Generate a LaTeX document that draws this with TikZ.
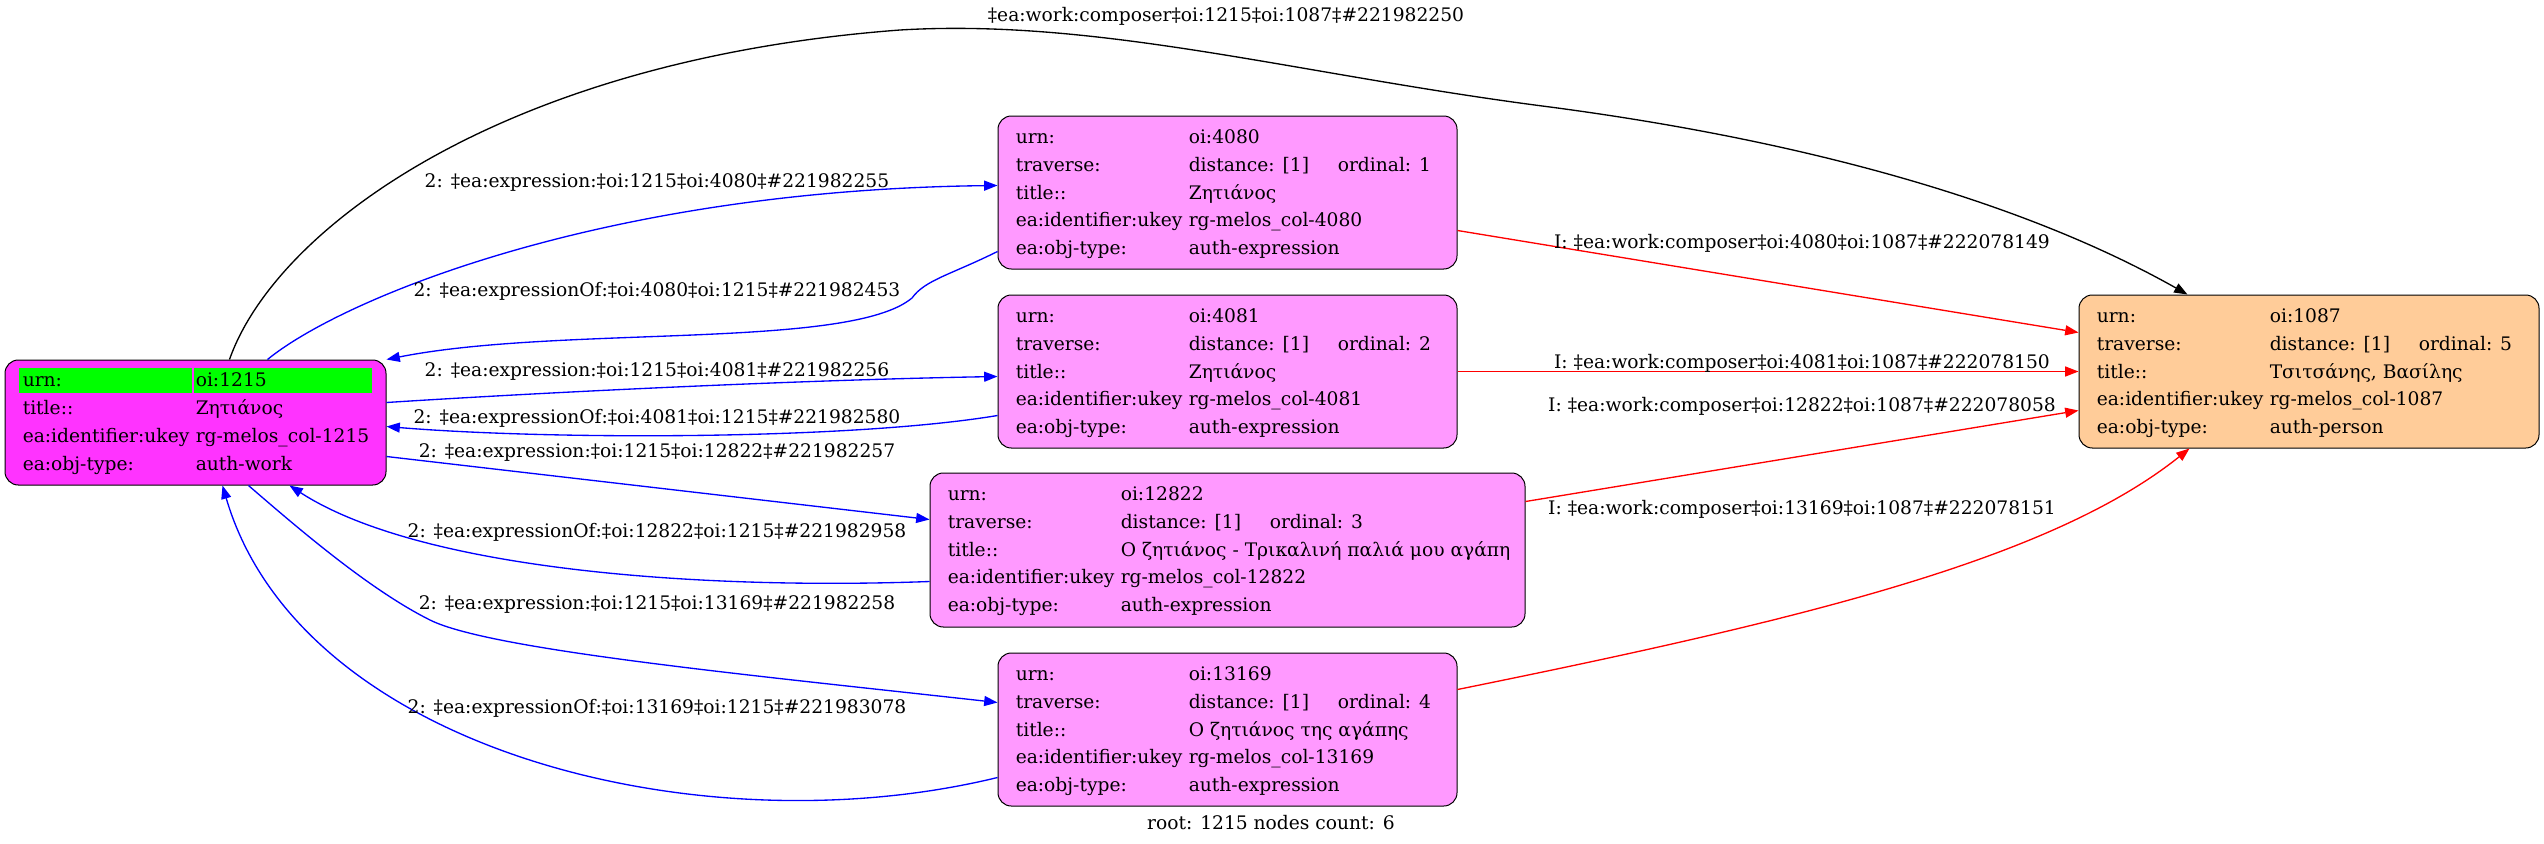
\documentclass[tikz,border=0pt]{standalone}
\usepackage{fontspec}
\setmainfont{DejaVu Serif}
\usetikzlibrary{arrows.meta,calc,fit}
\definecolor{workfill}{HTML}{FF33FF}
\definecolor{exprfill}{HTML}{FF99FF}
\definecolor{personfill}{HTML}{FFCC99}
\definecolor{keygreen}{HTML}{00FF00}
\definecolor{edgeblue}{HTML}{0000FF}
\definecolor{edgered}{HTML}{FF0000}
\newcommand\kvrow[5]{%
  \node[cell] (#1-l#2) at ($(#1.north west)+(18,#3)$) {#4};
  \node[cell] (#1-r#2) at ($(#1.north west)+(191,#3)$) {#5};}
\begin{document}
\begin{tikzpicture}[x=0.75pt,y=-0.75pt,
  font=\fontsize{14}{16}\selectfont,
  box/.style={draw=black, line width=0.75pt, rounded corners=10pt, inner sep=0pt},
  cell/.style={anchor=base west, inner sep=0pt},
  elabel/.style={anchor=base, inner sep=0pt},
  edge/.style={line width=1pt, -{Triangle[length=10pt,width=7.5pt]}},
  bedge/.style={edge, draw=edgeblue},
  redge/.style={edge, draw=edgered},
  kedge/.style={edge, draw=black}]
\useasboundingbox (0,0) rectangle (2544,843);

% boxes
\node[box, fill=workfill, fit={(5,360) (386,485)}] (n1215) {};
\node[box, fill=exprfill, fit={(998,116) (1457,269)}] (n4080) {};
\node[box, fill=exprfill, fit={(998,295) (1457,448)}] (n4081) {};
\node[box, fill=exprfill, fit={(930,473) (1525,627)}] (n12822) {};
\node[box, fill=exprfill, fit={(998,653) (1457,806)}] (n13169) {};
\node[box, fill=personfill, fit={(2079,295) (2539,448)}] (n1087) {};

% node 1215
\fill[keygreen] ($(n1215.north west)+(14,8)$) rectangle ++(173,25);
\fill[keygreen] ($(n1215.north west)+(189,8)$) rectangle ++(178,25);
\kvrow{n1215}{0}{26.8}{urn:}{oi:1215}
\kvrow{n1215}{1}{54.8}{title::}{Ζητιάνος}
\kvrow{n1215}{2}{82.8}{ea:identifier:ukey}{rg-melos\_col-1215}
\kvrow{n1215}{3}{110.8}{ea:obj-type:}{auth-work}

% node 4080
\kvrow{n4080}{0}{28.2}{urn:}{oi:4080}
\kvrow{n4080}{1}{55.9}{traverse:}{distance: [1]}
\node[cell] (n4080-o) at ($(n4080.north west)+(340,55.9)$) {ordinal: 1};
\kvrow{n4080}{2}{83.6}{title::}{Ζητιάνος}
\kvrow{n4080}{3}{111.3}{ea:identifier:ukey}{rg-melos\_col-4080}
\kvrow{n4080}{4}{139.0}{ea:obj-type:}{auth-expression}

% node 4081
\kvrow{n4081}{0}{28.2}{urn:}{oi:4081}
\kvrow{n4081}{1}{55.9}{traverse:}{distance: [1]}
\node[cell] (n4081-o) at ($(n4081.north west)+(340,55.9)$) {ordinal: 2};
\kvrow{n4081}{2}{83.6}{title::}{Ζητιάνος}
\kvrow{n4081}{3}{111.3}{ea:identifier:ukey}{rg-melos\_col-4081}
\kvrow{n4081}{4}{139.0}{ea:obj-type:}{auth-expression}

% node 12822
\kvrow{n12822}{0}{28.2}{urn:}{oi:12822}
\kvrow{n12822}{1}{55.9}{traverse:}{distance: [1]}
\node[cell] (n12822-o) at ($(n12822.north west)+(340,55.9)$) {ordinal: 3};
\kvrow{n12822}{2}{83.6}{title::}{Ο ζητιάνος - Τρικαλινή παλιά μου αγάπη}
\kvrow{n12822}{3}{111.3}{ea:identifier:ukey}{rg-melos\_col-12822}
\kvrow{n12822}{4}{139.0}{ea:obj-type:}{auth-expression}

% node 13169
\kvrow{n13169}{0}{28.2}{urn:}{oi:13169}
\kvrow{n13169}{1}{55.9}{traverse:}{distance: [1]}
\node[cell] (n13169-o) at ($(n13169.north west)+(340,55.9)$) {ordinal: 4};
\kvrow{n13169}{2}{83.6}{title::}{Ο ζητιάνος της αγάπης}
\kvrow{n13169}{3}{111.3}{ea:identifier:ukey}{rg-melos\_col-13169}
\kvrow{n13169}{4}{139.0}{ea:obj-type:}{auth-expression}

% node 1087
\kvrow{n1087}{0}{28.2}{urn:}{oi:1087}
\kvrow{n1087}{1}{55.9}{traverse:}{distance: [1]}
\node[cell] (n1087-o) at ($(n1087.north west)+(340,55.9)$) {ordinal: 5};
\kvrow{n1087}{2}{83.6}{title::}{Τσιτσάνης, Βασίλης}
\kvrow{n1087}{3}{111.3}{ea:identifier:ukey}{rg-melos\_col-1087}
\kvrow{n1087}{4}{139.0}{ea:obj-type:}{auth-person}

% black edge
\draw[kedge] ($(n1215.north west)+(225,0)$) .. controls (275,230) and (500,60) .. (900,30)
  .. controls (1100,18) and (1300,75) .. (1550,107)
  .. controls (1800,140) and (2020,200) .. ($(n1087.north west)+(109,0)$);

% blue edges
\draw[bedge] ($(n1215.north west)+(263,0)$) .. controls (340,300) and (600,190) .. ($(n4080.north west)+(0,70)$);
\draw[bedge] ($(n4080.north west)+(0,136)$) .. controls (950,275) and (925,280) .. (912,298)
  .. controls (850,350) and (560,325) .. (n1215.north east);
\draw[bedge] ($(n1215.north east)+(0,43)$) .. controls (550,392) and (800,380) .. ($(n4081.north west)+(0,82)$);
\draw[bedge] ($(n4081.north west)+(0,121)$) .. controls (850,440) and (550,440) .. ($(n1215.north east)+(0,67)$);
\draw[bedge] ($(n1215.north east)+(0,97)$) -- ($(n12822.north west)+(0,47)$);
\draw[bedge] ($(n12822.north west)+(0,109)$) .. controls (700,590) and (420,570) .. ($(n1215.south west)+(285,0)$);
\draw[bedge] ($(n1215.south west)+(244,0)$) .. controls (300,530) and (370,590) .. (430,620)
  .. controls (490,650) and (750,675) .. ($(n13169.north west)+(0,50)$);
\draw[bedge] ($(n13169.north west)+(0,125)$) .. controls (700,850) and (300,750) .. ($(n1215.south west)+(218,0)$);

% red edges
\draw[redge] ($(n4080.north east)+(0,115)$) -- ($(n1087.north west)+(0,38)$);
\draw[redge] ($(n4081.north east)+(0,77)$) -- ($(n1087.north west)+(0,77)$);
\draw[redge] ($(n12822.north east)+(0,29)$) -- ($(n1087.north west)+(0,116)$);
\draw[redge] ($(n13169.north east)+(0,37)$) .. controls (1800,620) and (2050,560) .. ($(n1087.south west)+(111,0)$);

% edge labels
\node[elabel] (l0) at (1226,21) {‡ea:work:composer‡oi:1215‡oi:1087‡\#221982250};
\node[elabel] (le4080) at (657,187) {2: ‡ea:expression:‡oi:1215‡oi:4080‡\#221982255};
\node[elabel] (lo4080) at (657,296) {2: ‡ea:expressionOf:‡oi:4080‡oi:1215‡\#221982453};
\node[elabel] (le4081) at (657,376) {2: ‡ea:expression:‡oi:1215‡oi:4081‡\#221982256};
\node[elabel] (lo4081) at (657,423) {2: ‡ea:expressionOf:‡oi:4081‡oi:1215‡\#221982580};
\node[elabel] (le12822) at (657,457) {2: ‡ea:expression:‡oi:1215‡oi:12822‡\#221982257};
\node[elabel] (lo12822) at (657,537) {2: ‡ea:expressionOf:‡oi:12822‡oi:1215‡\#221982958};
\node[elabel] (le13169) at (657,609) {2: ‡ea:expression:‡oi:1215‡oi:13169‡\#221982258};
\node[elabel] (lo13169) at (657,713) {2: ‡ea:expressionOf:‡oi:13169‡oi:1215‡\#221983078};
\node[elabel] (lr4080) at (1802,248) {I: ‡ea:work:composer‡oi:4080‡oi:1087‡\#222078149};
\node[elabel] (lr4081) at (1802,368) {I: ‡ea:work:composer‡oi:4081‡oi:1087‡\#222078150};
\node[elabel] (lr12822) at (1802,411) {I: ‡ea:work:composer‡oi:12822‡oi:1087‡\#222078058};
\node[elabel] (lr13169) at (1802,514) {I: ‡ea:work:composer‡oi:13169‡oi:1087‡\#222078151};
\node[elabel] (foot) at (1271,829) {root: 1215 nodes count: 6};
\end{tikzpicture}
\end{document}
